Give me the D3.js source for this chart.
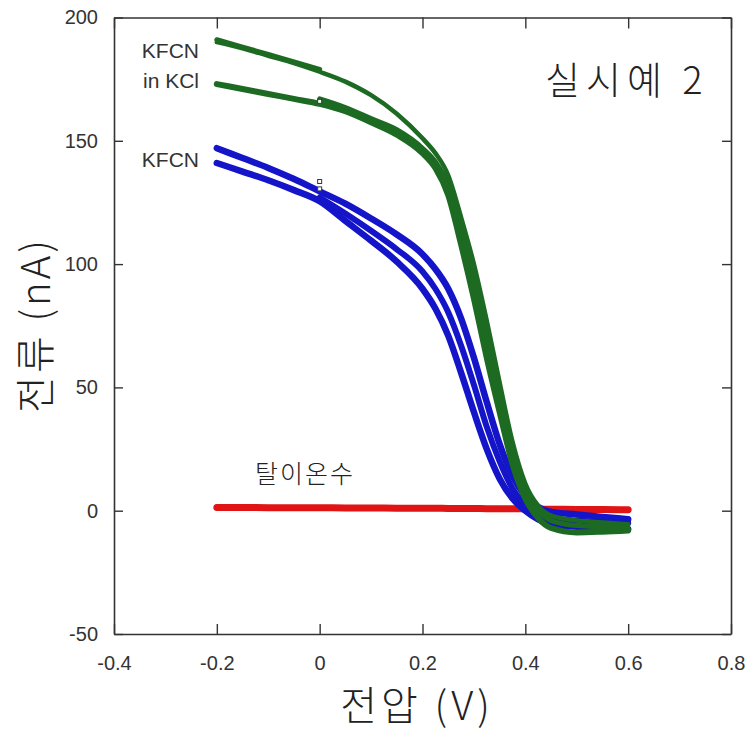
<!DOCTYPE html>
<html>
<head>
<meta charset="utf-8">
<script src="https://cdn.jsdelivr.net/npm/d3@7"></script>
<style>
    body { margin: 0; background: #fff; }
    svg { display: block; }
    .tick text { font-family: "Liberation Sans", Arial, sans-serif; font-size: 20px; fill: #333; }
    .kr { font-family: "Noto Sans CJK KR", sans-serif; font-weight: 300; fill: #222; }
    .lbl { font-family: "Liberation Sans", Arial, sans-serif; fill: #333; }
</style>
</head>
<body>
<div id="chart"></div>
<script>

// voltage grid (V) shared by all sweeps
var sweepV = [-0.2, -0.15, -0.1, -0.05, 0, 0.05, 0.1, 0.15, 0.2, 0.225, 0.25, 0.275,
              0.3, 0.325, 0.35, 0.375, 0.4, 0.425, 0.45, 0.5, 0.55, 0.6];

// current (nA) - KFCN in KCl (green)
var kclStart = [191, 188, 185, 182, 179, null, null, null, null, null, null, null,
                null, null, null, null, null, null, null, null, null, null];
var kclUpper = [190, 187.5, 184.5, 181.5, 178, 174, 168.5, 161, 151, 145, 136, 119,
                100, 77, 52, 28, 11, 2, -2, -4, -4.8, -5.5];
var kclMid   = [null, null, null, null, 167, 163.5, 159, 154.5, 147, 141.5, 132, 114,
                93, 70, 46, 24, 8, 0, -4, -6, -6.5, -7];
var kclLower = [173, 171, 169, 167, 165, 162, 157.5, 152.5, 145, 139, 128, 108,
                86, 62, 40, 19, 5, -3, -7, -8.8, -8.5, -8];

// current (nA) - KFCN (blue)
var fcnUpper = [147, 143, 139, 134.5, 129.5, 124.5, 118.5, 112, 104, 98, 90, 78,
                62, 44, 27, 14, 6, 1.5, -0.5, -1.5, -2.5, -3.5];
var fcnMid   = [null, null, null, null, 127, 120.5, 113.5, 106, 97, 90, 80.5, 67,
                51, 34, 20, 9, 2.5, -1.5, -3, -4, -4.5, -5];
var fcnLower = [141, 137.5, 134, 130, 125.5, 117.5, 109.5, 101, 90, 82, 71, 56,
                40, 25, 13, 5, 0, -3.5, -5.5, -6.5, -7, -7.5];

// current (nA) - deionized water (red)
var diwCurrent = [1.3, 1.3, 1.2, 1.2, 1.2, 1.1, 1.1, 1.0, 1.0, 1.0, 0.9, 0.9,
                  0.9, 0.8, 0.8, 0.8, 0.7, 0.6, 0.6, 0.5, 0.5, 0.4];

// small hollow markers left by the plotting program at V = 0
var markerV = [0, 0, 0];
var markerI = [133.5, 130.5, 166];

var xTicks = [-0.4, -0.2, 0, 0.2, 0.4, 0.6, 0.8];
var yTicks = [-50, 0, 50, 100, 150, 200];


/**
 * IVVis
 * @param _parentElement -- D3 node to attach the svg to
 * @param _series -- list of {values, color, width}
 * @constructor
 */
IVVis = function(_parentElement, _series){
    this.parentElement = _parentElement;
    this.series = _series;

    this.margin = {top: 17.5, right: 16, bottom: 99, left: 114};
    this.width = 747 - this.margin.left - this.margin.right;
    this.height = 733 - this.margin.top - this.margin.bottom;

    this.initVis();
}

IVVis.prototype.initVis = function(){

    var that = this;

    this.svgRoot = this.parentElement.append("svg")
        .attr("width", 747)
        .attr("height", 733);

    this.svg = this.svgRoot.append("g")
        .attr("transform", "translate(" + this.margin.left + "," + this.margin.top + ")");

    this.x = d3.scaleLinear().domain([-0.4, 0.8]).range([0, this.width]);
    this.y = d3.scaleLinear().domain([-50, 200]).range([this.height, 0]);

    this.updateVis();
}

IVVis.prototype.updateVis = function(){

    var that = this;

    // data traces
    var line = d3.line()
        .defined(function(d){ return d[1] != null; })
        .x(function(d){ return that.x(d[0]); })
        .y(function(d){ return that.y(d[1]); })
        .curve(d3.curveMonotoneX);

    this.series.forEach(function(s){
        var pts = sweepV.map(function(v, i){ return [v, s.values[i]]; });
        that.svg.append("path")
            .datum(pts)
            .attr("fill", "none")
            .attr("stroke", s.color)
            .attr("stroke-width", s.width)
            .attr("stroke-linecap", "round")
            .attr("stroke-linejoin", "round")
            .attr("d", line);
    });

    this.svg.selectAll(".mk")
        .data(markerV.map(function(v, i){ return [v, markerI[i]]; }))
        .enter().append("rect")
        .attr("class", "mk")
        .attr("x", function(d){ return that.x(d[0]) - 2; })
        .attr("y", function(d){ return that.y(d[1]) - 2; })
        .attr("width", 4).attr("height", 4)
        .attr("fill", "#fff")
        .attr("stroke", "#335")
        .attr("stroke-width", 1);

    // plain hyphen, not the unicode minus
    var fmt = function(d){ return String(d); };

    // axes - ticks point inward on all four sides
    var axes = [
        {a: d3.axisBottom(this.x).tickValues(xTicks).tickFormat(fmt).tickSizeInner(-10).tickSizeOuter(0).tickPadding(22),
         t: "translate(0," + this.height + ")"},
        {a: d3.axisTop(this.x).tickValues(xTicks).tickFormat("").tickSizeInner(-11).tickSizeOuter(0),
         t: "translate(0,0)"},
        {a: d3.axisLeft(this.y).tickValues(yTicks).tickFormat(fmt).tickSizeInner(-9).tickSizeOuter(0).tickPadding(16),
         t: "translate(0,0)"},
        {a: d3.axisRight(this.y).tickValues(yTicks).tickFormat("").tickSizeInner(-9).tickSizeOuter(0),
         t: "translate(" + this.width + ",0)"}
    ];
    axes.forEach(function(ax){
        var g = that.svg.append("g").attr("transform", ax.t).call(ax.a);
        g.select(".domain").attr("stroke", "#333").attr("stroke-width", 1.6);
        g.selectAll(".tick line").attr("stroke", "#333").attr("stroke-width", 1.4);
    });

    // axis titles
    this.svgRoot.append("text")
        .attr("class", "kr")
        .attr("x", 417).attr("y", 720)
        .attr("text-anchor", "middle")
        .style("font-size", "40px")
        .style("letter-spacing", "4px")
        .text("전압 (V)");

    this.svgRoot.append("text")
        .attr("class", "kr")
        .attr("transform", "translate(50,325) rotate(-90)")
        .attr("text-anchor", "middle")
        .style("font-size", "40px")
        .style("letter-spacing", "3px")
        .text("전류 (nA)");

    // annotations
    this.svgRoot.append("text")
        .attr("class", "kr")
        .attr("x", 545).attr("y", 94)
        .style("font-size", "38px")
        .style("letter-spacing", "6px")
        .text("실시예 2");

    this.svgRoot.append("text")
        .attr("class", "kr")
        .attr("x", 255).attr("y", 483)
        .style("font-size", "25px")
        .style("letter-spacing", "2px")
        .text("탈이온수");

    var notes = [["KFCN", 58], ["in KCl", 88], ["KFCN", 167]];
    notes.forEach(function(n){
        that.svgRoot.append("text")
            .attr("class", "lbl")
            .attr("x", 199).attr("y", n[1])
            .attr("text-anchor", "end")
            .style("font-size", "21px")
            .text(n[0]);
    });
};


var greenC = "#1d6b22", blueC = "#1414c8", redC = "#e01414";

new IVVis(d3.select("#chart"), [
    {values: diwCurrent, color: redC, width: 7},
    {values: fcnLower, color: blueC, width: 6.5},
    {values: fcnMid, color: blueC, width: 6},
    {values: fcnUpper, color: blueC, width: 6.5},
    {values: kclLower, color: greenC, width: 6},
    {values: kclMid, color: greenC, width: 5},
    {values: kclUpper, color: greenC, width: 4.5},
    {values: kclStart, color: greenC, width: 5}
]);

</script>
</body>
</html>
